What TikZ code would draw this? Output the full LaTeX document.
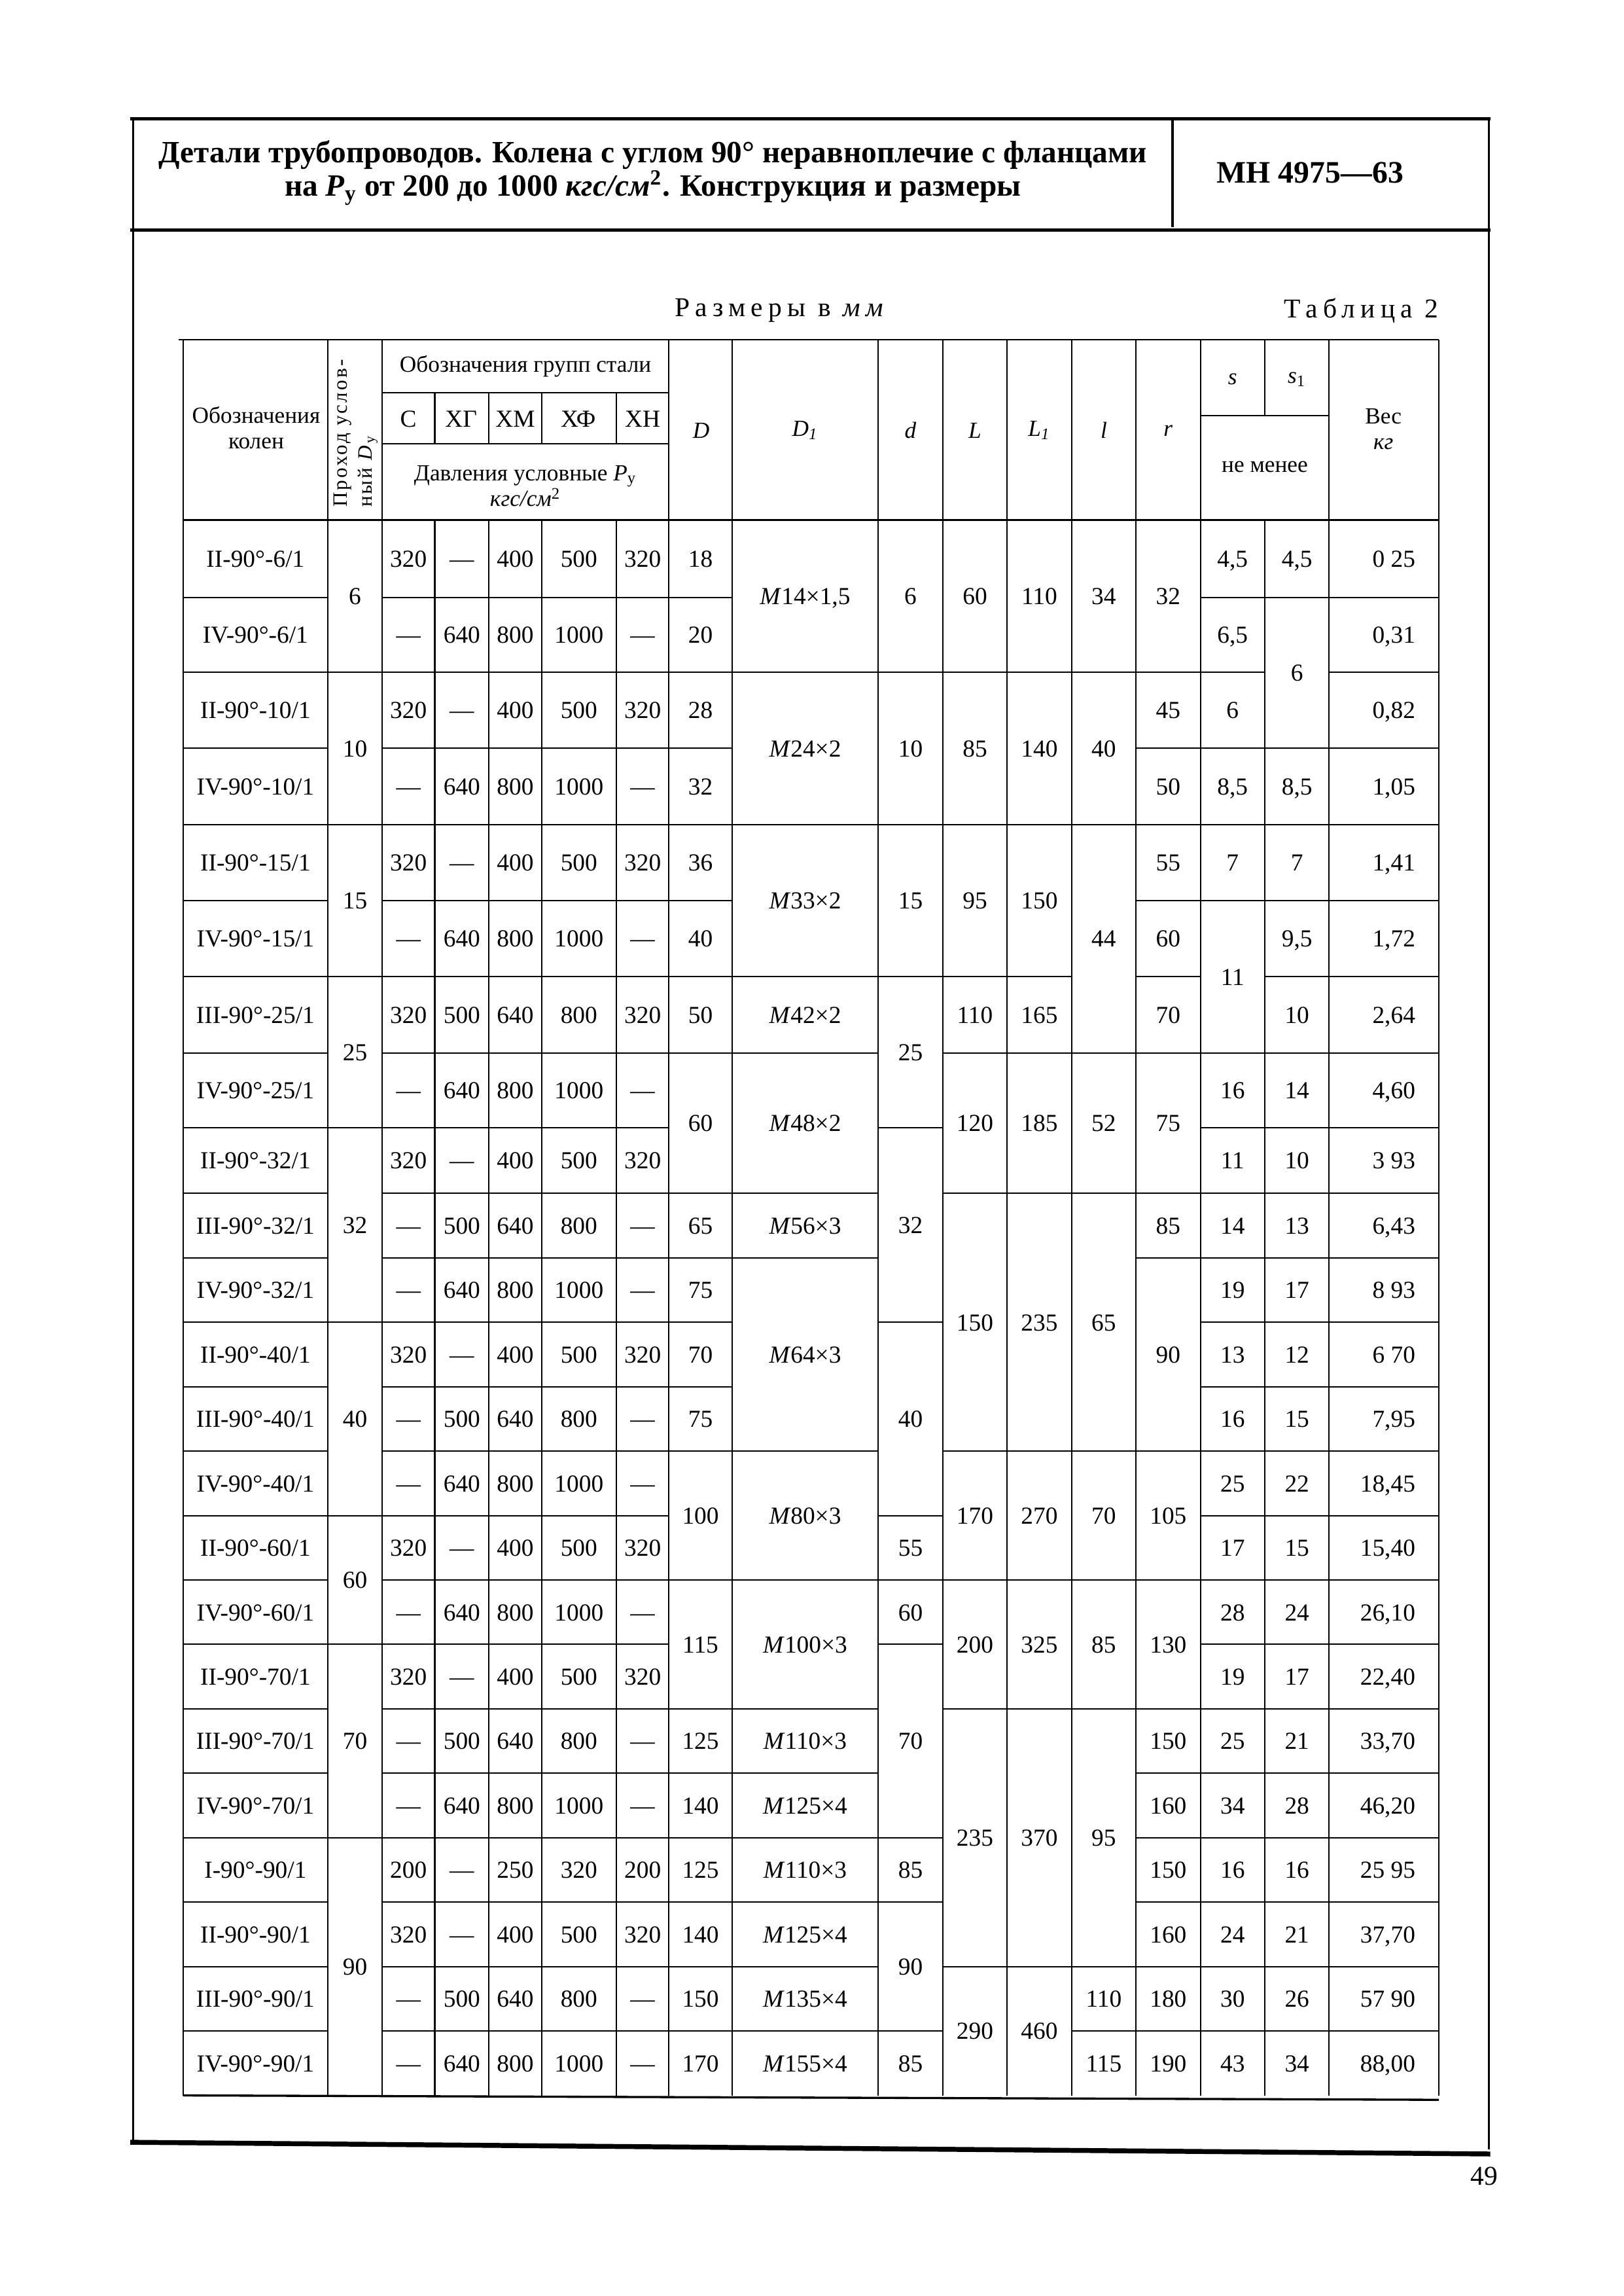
\documentclass[tikz,border=0pt]{standalone}
\usepackage{fontspec}
\setmainfont{Liberation Serif}
\newfontfamily\spaced{Liberation Serif}[LetterSpace=20]
\newfontfamily\spacedsm{Liberation Serif}[LetterSpace=10]

\def\bnd{{355,408,459,511,563,615,667,719,770,815,859,903,947,991,1035,1079,1123,1167,1211,1255,1299,1343,1387,1431}}
\def\cx{{125,224,261,297,334,370,421,457,500,600,644,688,732,776,820,864,908,983}}
\newcommand\thr[1]{\textit{М}#1}
\newcommand\tcell[5][]{%
    \pgfmathsetmacro\xa{\cx[#2]}%
    \pgfmathsetmacro\xb{\cx[#2+1]}%
    \pgfmathsetmacro\ya{\bnd[#3]}%
    \pgfmathsetmacro\yb{\bnd[#4]}%
    \node[cellnum, #1] (c#2-#3) at ({(\xa+\xb)/2}, {(\ya+\yb)/2}) {#5};%
    \ifnum#3>0 \draw[rule] (\xa, \ya) -- (\xb, \ya);\fi}

\tikzset{
    rule/.style={line width=0.5pt},
    frame/.style={line width=1.3pt},
    cellnum/.style={font=\fontsize{9}{10}\selectfont, inner sep=0pt, text height=6.2pt, text depth=0pt},
    headtxt/.style={font=\fontsize{8.5}{9.5}\selectfont, align=center, inner sep=0pt}
}

\begin{document}
\begin{tikzpicture}[x=0.18935mm, y=-0.18935mm]
    \useasboundingbox (0, 0) rectangle (1109, 1568);
    \draw[frame]
    (89, 81) -- (1018, 81)
    (89, 157) -- (1018, 157);
    \draw[line width=1.8pt] (89, 1463) -- (1018, 1471);
    \draw[line width=0.8pt]
    (91, 81) -- (91, 1462)
    (1017, 81) -- (1017, 1468)
    (801, 81) -- (801, 155);
    \node[font=\bfseries\fontsize{11.4}{12.2}\selectfont, align=center] (title) at (446, 118)
    {Детали трубопроводов. Колена с углом 90° неравноплечие с фланцами\\
    на \textit{P}\textsubscript{у} от 200 до 1000 \textit{кгс/см}\textsuperscript{2}. Конструкция и размеры};
    \node[font=\bfseries\fontsize{11.5}{12}\selectfont] (code) at (895, 118) {МН 4975—63};
    \node[font=\spaced\fontsize{10}{12}\selectfont] (razm) at (534, 212) {Размеры в \textit{мм}};
    \node[font=\spaced\fontsize{10}{12}\selectfont] (tabl) at (930, 212) {Таблица 2};
    \node[font=\fontsize{10}{12}\selectfont] (pnum) at (1014, 1486) {49};

    \draw[line width=0.7pt] (122, 232) -- (983, 232);
    \draw[line width=0.8pt] (125, 355) -- (983, 355);
    \draw[line width=0.8pt] (125, 1431) -- (983, 1434);
    \draw[rule]
    (261, 268) -- (457, 268)
    (261, 303) -- (457, 303)
    (820, 284) -- (908, 284);
    \foreach \x in {125, 224, 261, 457, 500, 600, 644, 688, 732, 776, 820, 908, 983}
        \draw[rule] (\x, 232) -- (\x, 1431);
    \foreach \x in {297, 334, 370, 421}
        \draw[rule] (\x, 268) -- (\x, 303) (\x, 355) -- (\x, 1431);
    \draw[rule] (864, 232) -- (864, 284) (864, 355) -- (864, 1431);

    \node[headtxt] (hkol) at (175, 292) {Обозначения\\колен};
    \node[headtxt, rotate=90, align=left, font=\spacedsm\fontsize{7.5}{9}\selectfont] (hdy) at (243, 296)
    {Проход услов-\\ный \textit{D}\textsubscript{у}};
    \node[headtxt] (hgrp) at (359, 250) {Обозначения групп стали};
    \foreach \x/\t/\n in {279/С/c, 315/ХГ/xg, 352/ХМ/xm, 395/ХФ/xf, 439/ХН/xn}
        \node[cellnum] (h\n) at (\x, 286) {\t};
    \node[headtxt] (hpress) at (359, 332) {Давления условные \textit{P}\textsubscript{у}\\\textit{кгс/см}\textsuperscript{2}};
    \foreach \x/\t/\n in {479/D/dd, 550/D\textsubscript{1}/dd1, 622/d/d, 666/L/ll, 710/L\textsubscript{1}/ll1, 754/l/l, 798/r/r}
        \node[headtxt] (h\n) at (\x, 294) {\textit{\t}};
    \node[headtxt] (hs) at (842, 259) {\textit{s}};
    \node[headtxt] (hs1) at (886, 259) {\textit{s}\textsubscript{1}};
    \node[headtxt] (hmin) at (864, 319) {не менее};
    \node[headtxt] (hwt) at (945, 293) {Вес\\\textit{кг}};

    \foreach \k/\lab/\sa/\sb/\sc/\sd/\se/\w in {
        1/{II-90°-6/1}/320/—/400/500/320/{0 25},
        2/{IV-90°-6/1}/—/640/800/1000/—/{0,31},
        3/{II-90°-10/1}/320/—/400/500/320/{0,82},
        4/{IV-90°-10/1}/—/640/800/1000/—/{1,05},
        5/{II-90°-15/1}/320/—/400/500/320/{1,41},
        6/{IV-90°-15/1}/—/640/800/1000/—/{1,72},
        7/{III-90°-25/1}/320/500/640/800/320/{2,64},
        8/{IV-90°-25/1}/—/640/800/1000/—/{4,60},
        9/{II-90°-32/1}/320/—/400/500/320/{3 93},
        10/{III-90°-32/1}/—/500/640/800/—/{6,43},
        11/{IV-90°-32/1}/—/640/800/1000/—/{8 93},
        12/{II-90°-40/1}/320/—/400/500/320/{6 70},
        13/{III-90°-40/1}/—/500/640/800/—/{7,95},
        14/{IV-90°-40/1}/—/640/800/1000/—/{18,45},
        15/{II-90°-60/1}/320/—/400/500/320/{15,40},
        16/{IV-90°-60/1}/—/640/800/1000/—/{26,10},
        17/{II-90°-70/1}/320/—/400/500/320/{22,40},
        18/{III-90°-70/1}/—/500/640/800/—/{33,70},
        19/{IV-90°-70/1}/—/640/800/1000/—/{46,20},
        20/{I-90°-90/1}/200/—/250/320/200/{25 95},
        21/{II-90°-90/1}/320/—/400/500/320/{37,70},
        22/{III-90°-90/1}/—/500/640/800/—/{57 90},
        23/{IV-90°-90/1}/—/640/800/1000/—/{88,00}}
    {
        \pgfmathtruncatemacro\kp{\k-1}
        \tcell{0}{\kp}{\k}{\lab}
        \tcell{2}{\kp}{\k}{\sa}
        \tcell{3}{\kp}{\k}{\sb}
        \tcell{4}{\kp}{\k}{\sc}
        \tcell{5}{\kp}{\k}{\sd}
        \tcell{6}{\kp}{\k}{\se}
        \tcell[anchor=east, xshift=4.1mm]{16}{\kp}{\k}{\w}
    }
    \foreach \a/\b/\t in {0/2/6, 2/4/10, 4/6/15, 6/8/25, 8/11/32, 11/14/40, 14/16/60, 16/19/70, 19/23/90}
        \tcell{1}{\a}{\b}{\t};
    \foreach \a/\b/\t in {0/1/18, 1/2/20, 2/3/28, 3/4/32, 4/5/36, 5/6/40, 6/7/50, 7/9/60, 9/10/65, 10/11/75,
        11/12/70, 12/13/75, 13/15/100, 15/17/115, 17/18/125, 18/19/140, 19/20/125, 20/21/140, 21/22/150, 22/23/170}
        \tcell{7}{\a}{\b}{\t};
    \foreach \a/\b/\t in {0/2/{\thr{14×1,5}}, 2/4/{\thr{24×2}}, 4/6/{\thr{33×2}}, 6/7/{\thr{42×2}}, 7/9/{\thr{48×2}},
        9/10/{\thr{56×3}}, 10/13/{\thr{64×3}}, 13/15/{\thr{80×3}}, 15/17/{\thr{100×3}}, 17/18/{\thr{110×3}},
        18/19/{\thr{125×4}}, 19/20/{\thr{110×3}}, 20/21/{\thr{125×4}}, 21/22/{\thr{135×4}}, 22/23/{\thr{155×4}}}
        \tcell{8}{\a}{\b}{\t};
    \foreach \a/\b/\t in {0/2/6, 2/4/10, 4/6/15, 6/8/25, 8/11/32, 11/14/40, 14/15/55, 15/16/60, 16/19/70,
        19/20/85, 20/22/90, 22/23/85}
        \tcell{9}{\a}{\b}{\t};
    \foreach \a/\b/\t in {0/2/60, 2/4/85, 4/6/95, 6/7/110, 7/9/120, 9/13/150, 13/15/170, 15/17/200, 17/21/235, 21/23/290}
        \tcell{10}{\a}{\b}{\t};
    \foreach \a/\b/\t in {0/2/110, 2/4/140, 4/6/150, 6/7/165, 7/9/185, 9/13/235, 13/15/270, 15/17/325, 17/21/370, 21/23/460}
        \tcell{11}{\a}{\b}{\t};
    \foreach \a/\b/\t in {0/2/34, 2/4/40, 4/7/44, 7/9/52, 9/13/65, 13/15/70, 15/17/85, 17/21/95, 21/22/110, 22/23/115}
        \tcell{12}{\a}{\b}{\t};
    \foreach \a/\b/\t in {0/2/32, 2/3/45, 3/4/50, 4/5/55, 5/6/60, 6/7/70, 7/9/75, 9/10/85, 10/13/90, 13/15/105,
        15/17/130, 17/18/150, 18/19/160, 19/20/150, 20/21/160, 21/22/180, 22/23/190}
        \tcell{13}{\a}{\b}{\t};
    \foreach \a/\b/\t in {0/1/{4,5}, 1/2/{6,5}, 2/3/6, 3/4/{8,5}, 4/5/7, 5/7/11, 7/8/16, 8/9/11, 9/10/14, 10/11/19,
        11/12/13, 12/13/16, 13/14/25, 14/15/17, 15/16/28, 16/17/19, 17/18/25, 18/19/34, 19/20/16, 20/21/24,
        21/22/30, 22/23/43}
        \tcell{14}{\a}{\b}{\t};
    \foreach \a/\b/\t in {0/1/{4,5}, 1/3/6, 3/4/{8,5}, 4/5/7, 5/6/{9,5}, 6/7/10, 7/8/14, 8/9/10, 9/10/13, 10/11/17,
        11/12/12, 12/13/15, 13/14/22, 14/15/15, 15/16/24, 16/17/17, 17/18/21, 18/19/28, 19/20/16, 20/21/21,
        21/22/26, 22/23/34}
        \tcell{15}{\a}{\b}{\t};
\end{tikzpicture}
\end{document}
